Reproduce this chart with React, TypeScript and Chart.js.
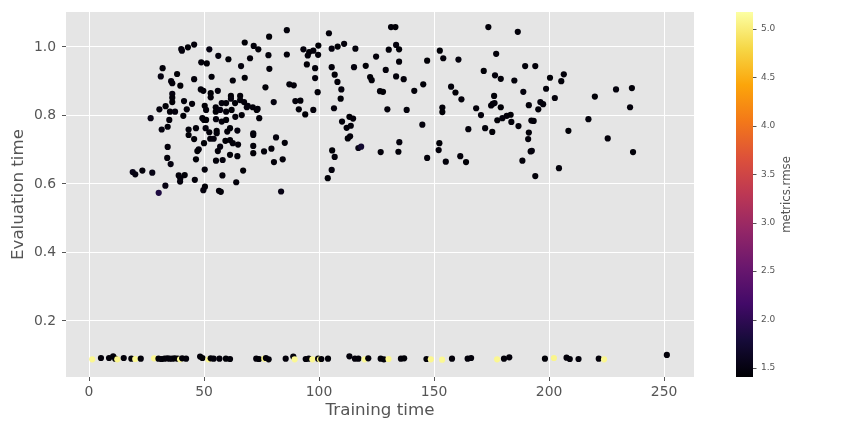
import React, { useEffect, useRef } from "react";
import { Chart, registerables } from "chart.js";

Chart.register(...registerables);

// ---- axis ticks ----
const xTicks = [0, 50, 100, 150, 200, 250];
const yTicks = [0.2, 0.4, 0.6, 0.8, 1.0];
const cbTicks = [1.5, 2.0, 2.5, 3.0, 3.5, 4.0, 4.5, 5.0];
const X_MIN = -10, X_MAX = 263;
const Y_MIN = 0.0365, Y_MAX = 1.102;
const C_MIN = 1.407, C_MAX = 5.175;

// ---- upper cluster ----
const upperTrain = [
  40.1, 40.4, 43.0, 45.7, 52.3, 67.7, 71.6, 73.6, 56.2, 60.6,
  70.0, 48.8, 51.2, 66.1, 32.0, 38.3, 31.2, 45.7, 53.3, 62.5,
  67.7, 35.7, 36.2, 39.7, 48.6, 49.7, 56.0, 52.9, 52.9, 36.2,
  36.2, 36.2, 41.3, 44.8, 33.3, 30.6, 35.2, 37.4, 42.5, 50.3,
  50.9, 55.1, 55.1, 57.7, 59.6, 61.7, 61.7, 65.7, 65.7, 63.5,
  67.4, 69.0, 71.2, 72.9, 57.0, 59.6, 62.0, 63.6, 66.4, 68.6,
  41.0, 26.8, 34.9, 49.3, 50.0, 50.9, 55.2, 57.7, 59.6, 31.6,
  34.2, 43.3, 43.3, 46.5, 50.7, 52.3, 55.5, 55.5, 60.1, 61.3,
  64.5, 71.4, 71.4, 45.7, 52.7, 54.2, 59.3, 61.3, 62.5, 64.8,
  50.0, 57.0, 56.0, 71.4, 71.4, 34.2, 47.7, 47.1, 61.3, 64.5,
  34.0, 35.5, 46.5, 55.2, 58.1, 50.3, 67.0, 19.0, 20.1, 23.2,
  27.5, 39.0, 39.7, 39.6, 41.6, 46.0, 58.0, 64.0, 33.2, 50.4,
  49.7, 56.5, 57.3, 30.3, 86.0, 78.3, 104.3, 131.3, 133.2, 78.0,
  86.0, 93.2, 95.7, 97.5, 99.7, 95.1, 99.6, 105.5, 108.1, 110.9,
  115.8, 130.3, 133.5, 134.8, 124.8, 94.7, 98.3, 78.4, 105.5, 115.2,
  120.3, 129.0, 134.8, 133.5, 106.8, 98.3, 108.0, 122.2, 122.9, 87.1,
  89.0, 76.7, 109.7, 99.4, 126.5, 127.8, 89.7, 91.9, 80.3, 109.4,
  73.3, 91.2, 97.5, 94.0, 106.5, 129.7, 74.0, 110.0, 113.2, 114.8,
  112.0, 113.8, 112.5, 113.5, 81.3, 85.1, 76.1, 79.3, 117.1, 118.3,
  126.8, 134.5, 134.9, 105.7, 106.8, 80.4, 84.2, 105.5, 103.8, 83.5,
  173.6, 186.4, 152.5, 154.0, 160.6, 147.0, 177.0, 189.6, 194.0, 171.6,
  176.5, 179.0, 184.9, 136.8, 145.3, 141.4, 157.4, 159.3, 161.9, 188.8,
  176.1, 174.8, 175.5, 176.3, 179.0, 168.3, 170.4, 153.6, 153.6, 138.1,
  191.2, 195.3, 196.2, 177.5, 179.7, 181.6, 183.3, 183.6, 186.7, 192.3,
  193.3, 172.2, 175.3, 164.9, 144.9, 191.2, 190.9, 152.3, 152.0, 147.0,
  155.1, 161.4, 163.9, 192.0, 192.5, 188.4, 194.0, 197.4, 200.4, 206.4,
  205.3, 198.7, 202.5, 219.9, 229.1, 236.0, 235.2, 217.1, 208.4, 225.5,
  236.5, 204.3,
];
const upperEval = [
  0.994, 0.989, 0.999, 1.007, 0.993, 1.013, 1.003, 0.993, 0.974, 0.964,
  0.967, 0.955, 0.952, 0.944, 0.938, 0.921, 0.914, 0.906, 0.913, 0.902,
  0.910, 0.900, 0.894, 0.887, 0.876, 0.872, 0.872, 0.865, 0.853, 0.863,
  0.852, 0.839, 0.842, 0.834, 0.827, 0.818, 0.811, 0.811, 0.818, 0.828,
  0.816, 0.824, 0.811, 0.836, 0.836, 0.857, 0.849, 0.857, 0.845, 0.836,
  0.839, 0.828, 0.824, 0.816, 0.816, 0.811, 0.816, 0.796, 0.801, 0.824,
  0.799, 0.792, 0.787, 0.792, 0.787, 0.787, 0.789, 0.782, 0.787, 0.759,
  0.767, 0.759, 0.743, 0.763, 0.763, 0.751, 0.755, 0.748, 0.753, 0.763,
  0.756, 0.743, 0.748, 0.731, 0.732, 0.732, 0.726, 0.728, 0.719, 0.715,
  0.719, 0.709, 0.696, 0.711, 0.690, 0.708, 0.701, 0.696, 0.685, 0.681,
  0.676, 0.658, 0.672, 0.668, 0.670, 0.642, 0.639, 0.635, 0.628, 0.639,
  0.633, 0.625, 0.617, 0.607, 0.626, 0.612, 0.625, 0.605, 0.595, 0.592,
  0.582, 0.580, 0.577, 0.574, 1.049, 1.030, 1.040, 1.058, 1.058, 0.976,
  0.978, 0.993, 0.985, 0.989, 1.004, 0.975, 0.977, 0.995, 1.001, 1.009,
  0.995, 0.992, 1.006, 0.993, 0.972, 0.949, 0.938, 0.936, 0.941, 0.941,
  0.945, 0.933, 0.957, 0.914, 0.919, 0.909, 0.898, 0.912, 0.903, 0.891,
  0.888, 0.882, 0.876, 0.868, 0.871, 0.869, 0.842, 0.843, 0.839, 0.849,
  0.819, 0.818, 0.816, 0.803, 0.821, 0.818, 0.792, 0.782, 0.796, 0.791,
  0.764, 0.770, 0.733, 0.739, 0.736, 0.720, 0.695, 0.703, 0.705, 0.709,
  0.693, 0.694, 0.722, 0.698, 0.679, 0.664, 0.672, 0.641, 0.617, 0.578,
  1.058, 1.044, 0.989, 0.967, 0.963, 0.960, 0.980, 0.944, 0.944, 0.930,
  0.917, 0.907, 0.902, 0.906, 0.891, 0.872, 0.884, 0.867, 0.847, 0.869,
  0.857, 0.829, 0.834, 0.836, 0.824, 0.821, 0.801, 0.823, 0.810, 0.816,
  0.830, 0.818, 0.839, 0.786, 0.792, 0.799, 0.802, 0.781, 0.769, 0.785,
  0.784, 0.763, 0.752, 0.760, 0.773, 0.750, 0.731, 0.719, 0.699, 0.676,
  0.665, 0.681, 0.664, 0.695, 0.697, 0.668, 0.623, 0.833, 0.910, 0.920,
  0.900, 0.878, 0.851, 0.855, 0.876, 0.880, 0.824, 0.789, 0.755, 0.733,
  0.693, 0.646,
];
const upperRmse = [
  1.44, 1.47, 1.43, 1.45, 1.49, 1.42, 1.46, 1.44, 1.48, 1.43,
  1.45, 1.46, 1.42, 1.47, 1.44, 1.43, 1.50, 1.45, 1.44, 1.46,
  1.43, 1.48, 1.45, 1.42, 1.46, 1.44, 1.47, 1.43, 1.45, 1.49,
  1.44, 1.42, 1.46, 1.45, 1.43, 1.47, 1.44, 1.48, 1.45, 1.42,
  1.46, 1.44, 1.43, 1.47, 1.45, 1.42, 1.48, 1.44, 1.46, 1.43,
  1.45, 1.47, 1.44, 1.42, 1.49, 1.45, 1.43, 1.46, 1.44, 1.47,
  1.43, 1.52, 1.45, 1.44, 1.46, 1.42, 1.47, 1.45, 1.43, 1.48,
  1.44, 1.46, 1.43, 1.45, 1.47, 1.44, 1.42, 1.46, 1.45, 1.43,
  1.48, 1.44, 1.46, 1.43, 1.45, 1.47, 1.42, 1.44, 1.46, 1.45,
  1.43, 1.47, 1.44, 1.46, 1.42, 1.45, 1.48, 1.43, 1.44, 1.46,
  1.45, 1.49, 1.43, 1.44, 1.47, 1.46, 1.42, 1.55, 1.50, 1.45,
  1.53, 1.44, 1.46, 1.47, 1.43, 1.45, 1.44, 1.46, 1.51, 1.43,
  1.47, 1.45, 1.44, 1.85, 1.46, 1.43, 1.45, 1.44, 1.42, 1.46,
  1.44, 1.47, 1.43, 1.45, 1.42, 1.46, 1.44, 1.48, 1.43, 1.45,
  1.46, 1.44, 1.47, 1.43, 1.45, 1.42, 1.46, 1.44, 1.45, 1.47,
  1.43, 1.45, 1.44, 1.46, 1.42, 1.47, 1.45, 1.43, 1.44, 1.46,
  1.45, 1.43, 1.47, 1.44, 1.46, 1.42, 1.45, 1.44, 1.48, 1.43,
  1.46, 1.44, 1.45, 1.43, 1.47, 1.45, 1.44, 1.46, 1.42, 1.45,
  1.44, 1.46, 1.43, 1.45, 1.47, 1.44, 1.46, 1.45, 1.50, 1.72,
  1.45, 1.44, 1.47, 1.43, 1.46, 1.44, 1.45, 1.47, 1.43, 1.52,
  1.44, 1.46, 1.43, 1.45, 1.47, 1.42, 1.44, 1.46, 1.45, 1.43,
  1.47, 1.44, 1.46, 1.45, 1.43, 1.44, 1.46, 1.42, 1.45, 1.47,
  1.43, 1.45, 1.44, 1.46, 1.42, 1.45, 1.47, 1.44, 1.43, 1.46,
  1.45, 1.44, 1.47, 1.43, 1.46, 1.45, 1.42, 1.44, 1.46, 1.45,
  1.44, 1.46, 1.43, 1.45, 1.47, 1.44, 1.46, 1.43, 1.45, 1.44,
  1.46, 1.45, 1.43, 1.44, 1.47, 1.45, 1.44, 1.46, 1.43, 1.45,
  1.44, 1.46, 1.45, 1.43, 1.47, 1.44, 1.45, 1.46, 1.43, 1.45,
  1.44, 1.46,
];

// ---- lower band ----
const lowerTrain = [
  1.4, 5.2, 8.7, 10.5, 11.4, 12.3, 15.1, 18.4, 20.1, 22.5,
  28.3, 30.2, 31.5, 32.8, 34.0, 35.0, 36.2, 37.3, 38.6, 39.6,
  40.5, 42.2, 48.3, 49.3, 51.9, 52.9, 54.2, 56.7, 59.5, 61.3,
  72.7, 73.9, 76.2, 76.9, 78.1, 85.5, 88.8, 89.4, 94.2, 95.5,
  97.1, 99.6, 100.4, 101.0, 103.9, 113.2, 115.6, 117.1, 119.8, 121.4,
  126.8, 128.2, 130.2, 135.6, 137.0, 146.7, 148.6, 153.5, 157.8, 164.6,
  166.1, 177.4, 180.4, 182.7, 198.2, 202.1, 207.6, 209.0, 212.8, 221.6,
  223.9, 251.2,
];
const lowerEval = [
  0.088, 0.092, 0.092, 0.097, 0.090, 0.088, 0.092, 0.090, 0.089, 0.090,
  0.091, 0.090, 0.089, 0.090, 0.091, 0.090, 0.090, 0.091, 0.090, 0.088,
  0.091, 0.090, 0.096, 0.092, 0.088, 0.091, 0.090, 0.090, 0.090, 0.089,
  0.090, 0.089, 0.090, 0.092, 0.088, 0.090, 0.096, 0.088, 0.089, 0.090,
  0.088, 0.090, 0.088, 0.089, 0.090, 0.097, 0.090, 0.090, 0.088, 0.091,
  0.090, 0.088, 0.089, 0.090, 0.091, 0.089, 0.088, 0.087, 0.090, 0.090,
  0.092, 0.088, 0.090, 0.094, 0.090, 0.092, 0.093, 0.089, 0.089, 0.090,
  0.088, 0.101,
];
const lowerRmse = [
  5.10, 1.45, 1.44, 1.46, 1.43, 5.08, 1.45, 1.44, 5.11, 1.46,
  5.09, 1.44, 1.46, 1.43, 1.45, 1.44, 1.47, 1.43, 1.45, 5.12,
  1.44, 1.46, 1.45, 1.43, 5.10, 1.44, 1.46, 1.45, 1.43, 1.44,
  1.45, 1.43, 5.09, 1.46, 1.44, 1.45, 1.47, 5.11, 1.44, 1.46,
  5.10, 1.45, 5.08, 1.44, 1.43, 1.46, 1.45, 1.44, 5.12, 1.45,
  1.44, 1.46, 5.10, 1.45, 1.43, 1.44, 5.09, 5.11, 1.45, 1.44,
  1.46, 5.10, 1.44, 1.45, 1.43, 5.08, 1.45, 1.44, 1.46, 1.45,
  5.10, 1.44,
];

// inferno colormap stops
const INFERNO = [
  "#000004", "#160b39", "#420a68", "#6a176e", "#932667", "#bc3754",
  "#dd513a", "#f37819", "#fca50a", "#f6d746", "#fcffa4",
];

function hexToRgb(h: string): number[] {
  return [parseInt(h.slice(1, 3), 16), parseInt(h.slice(3, 5), 16), parseInt(h.slice(5, 7), 16)];
}
function inferno(v: number): string {
  let t = (v - C_MIN) / (C_MAX - C_MIN);
  t = Math.max(0, Math.min(1, t));
  const p = t * (INFERNO.length - 1);
  const i = Math.min(INFERNO.length - 2, Math.floor(p));
  const f = p - i;
  const a = hexToRgb(INFERNO[i]);
  const b = hexToRgb(INFERNO[i + 1]);
  const c = a.map((x, k) => Math.round(x + (b[k] - x) * f));
  return `rgb(${c[0]},${c[1]},${c[2]})`;
}

const FONT = "'DejaVu Sans', sans-serif";
const TXT = "#555555";

const bgPlugin = {
  id: "ggbg",
  beforeDraw(chart: any) {
    const { ctx, chartArea } = chart;
    ctx.save();
    ctx.fillStyle = "#e5e5e5";
    ctx.fillRect(chartArea.left, chartArea.top, chartArea.right - chartArea.left, chartArea.bottom - chartArea.top);
    ctx.restore();
  },
};

const colorbarPlugin = {
  id: "colorbar",
  afterDraw(chart: any) {
    const s = chart.scales.cb;
    const ctx = chart.ctx;
    const top = s.getPixelForValue(C_MAX);
    const bottom = s.getPixelForValue(C_MIN);
    const x0 = s.left + 42;
    const w = 17;
    ctx.save();
    const g = ctx.createLinearGradient(0, bottom, 0, top);
    INFERNO.forEach((c, i) => g.addColorStop(i / (INFERNO.length - 1), c));
    ctx.fillStyle = g;
    ctx.fillRect(x0, top, w, bottom - top);
    ctx.strokeStyle = TXT;
    ctx.lineWidth = 1;
    cbTicks.forEach((v) => {
      const y = Math.round(s.getPixelForValue(v)) + 0.5;
      ctx.beginPath();
      ctx.moveTo(x0 + w, y);
      ctx.lineTo(x0 + w + 3.5, y);
      ctx.stroke();
    });
    ctx.translate(s.left + 92.7, (top + bottom) / 2);
    ctx.rotate(-Math.PI / 2);
    ctx.fillStyle = TXT;
    ctx.font = `11.7px ${FONT}`;
    ctx.textAlign = "center";
    ctx.textBaseline = "middle";
    ctx.fillText("metrics.rmse", 0, 0);
    ctx.restore();
  },
};

export default function App() {
  const ref = useRef<HTMLCanvasElement | null>(null);

  useEffect(() => {
    document.body.style.margin = "0";
    if (!ref.current) return;
    const xs = [...upperTrain, ...lowerTrain];
    const ys = [...upperEval, ...lowerEval];
    const cs = [...upperRmse, ...lowerRmse];
    const data = xs.map((x, i) => ({ x, y: ys[i] }));
    const colors = cs.map((c) => inferno(c));

    const chart = new Chart(ref.current, {
      type: "scatter",
      data: {
        datasets: [
          {
            data,
            xAxisID: "x",
            yAxisID: "y",
            pointRadius: 3.1,
            pointHoverRadius: 3.1,
            pointBorderWidth: 0,
            pointBackgroundColor: colors,
            pointBorderColor: colors,
          },
        ],
      },
      options: {
        animation: false,
        responsive: false,
        devicePixelRatio: 1,
        layout: { padding: { top: 12, left: 0, right: 0, bottom: 0 } },
        plugins: { legend: { display: false }, tooltip: { enabled: false } },
        scales: {
          x: {
            type: "linear",
            position: "bottom",
            min: X_MIN,
            max: X_MAX,
            afterBuildTicks: (s: any) => {
              s.ticks = xTicks.map((v) => ({ value: v }));
            },
            afterFit: (s: any) => {
              s.height = 55;
              s.paddingLeft = 0;
              s.paddingRight = 0;
            },
            grid: { color: "#ffffff", lineWidth: 1, tickColor: TXT, tickLength: 4 },
            border: { display: false },
            ticks: {
              color: TXT,
              font: { family: FONT, size: 13.9 },
              padding: 3,
              maxRotation: 0,
              callback: (v: any) => String(v),
            },
            title: {
              display: true,
              text: "Training time",
              color: TXT,
              font: { family: FONT, size: 16.7 },
              padding: { top: 0, bottom: 11 },
            },
          },
          y: {
            type: "linear",
            position: "left",
            min: Y_MIN,
            max: Y_MAX,
            afterBuildTicks: (s: any) => {
              s.ticks = yTicks.map((v) => ({ value: v }));
            },
            afterFit: (s: any) => {
              s.width = 66;
              s.paddingTop = 0;
              s.paddingBottom = 0;
            },
            grid: { color: "#ffffff", lineWidth: 1, tickColor: TXT, tickLength: 4 },
            border: { display: false },
            ticks: {
              color: TXT,
              font: { family: FONT, size: 13.9 },
              padding: 6,
              callback: (v: any) => Number(v).toFixed(1),
            },
            title: {
              display: true,
              text: "Evaluation time",
              color: TXT,
              font: { family: FONT, size: 16.7 },
              padding: { top: 8.5, bottom: 0 },
            },
          },
          cb: {
            type: "linear",
            position: "right",
            axis: "y",
            min: C_MIN,
            max: C_MAX,
            afterBuildTicks: (s: any) => {
              s.ticks = cbTicks.map((v) => ({ value: v }));
            },
            afterFit: (s: any) => {
              s.width = 170;
              s.paddingTop = 0;
              s.paddingBottom = 0;
            },
            grid: { display: false, drawTicks: false, drawOnChartArea: false },
            border: { display: false },
            ticks: {
              color: TXT,
              font: { family: FONT, size: 9 },
              padding: 67,
              callback: (v: any) => Number(v).toFixed(1),
            },
          },
        },
      },
      plugins: [bgPlugin, colorbarPlugin],
    } as any);

    return () => chart.destroy();
  }, []);

  return (
    <div style={{ width: 864, height: 432, background: "#ffffff" }}>
      <canvas ref={ref} width={864} height={432} style={{ display: "block" }} />
    </div>
  );
}
